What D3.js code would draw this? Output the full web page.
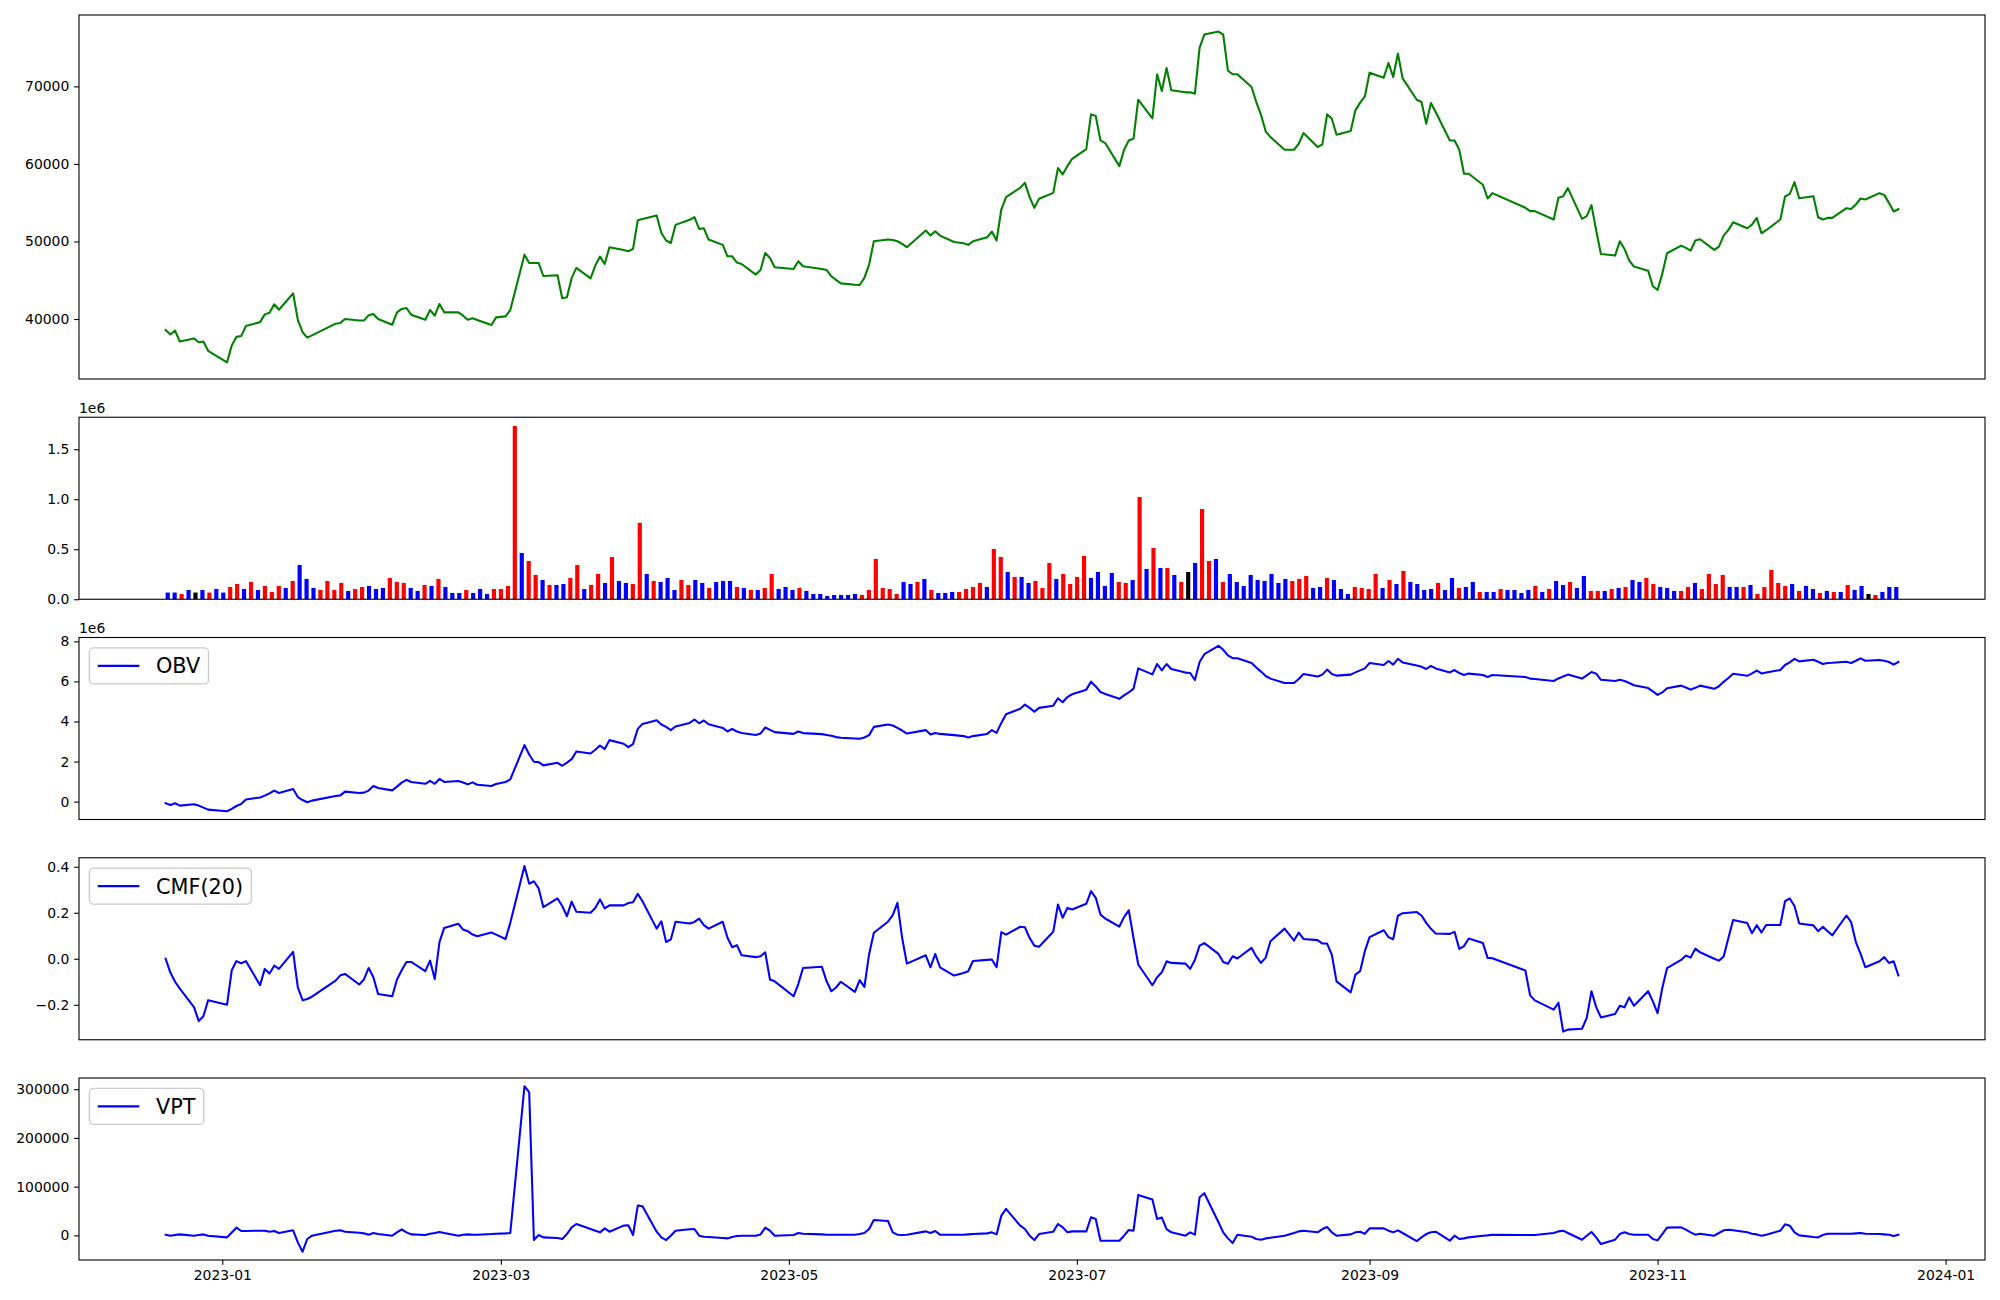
<!DOCTYPE html>
<html><head><meta charset="utf-8">
<script src="https://cdn.jsdelivr.net/npm/d3@7"></script>
<style>body{margin:0;background:#fff}</style>
</head><body><svg id="c" width="2000" height="1300" xmlns="http://www.w3.org/2000/svg"></svg>
<script>
// ---------------- DATA ----------------
const tradingDays = {
 "2022-12":[20,21,22,23,26,27,28,29],
 "2023-01":[2,3,4,5,6,9,10,11,12,13,16,17,18,19,20,25,26,27,30,31],
 "2023-02":[1,2,3,6,7,8,9,10,13,14,15,16,17,20,21,22,23,24,27,28],
 "2023-03":[2,3,6,7,8,9,10,13,14,15,16,17,20,21,22,23,24,27,28,29,30,31],
 "2023-04":[3,4,5,6,7,10,11,12,13,14,17,18,19,20,21,24,25,26,27,28],
 "2023-05":[2,3,4,8,9,10,11,12,15,16,17,18,19,22,23,24,25,26,30,31],
 "2023-06":[1,2,5,7,8,9,12,13,14,15,16,19,20,21,22,23,26,27,28,29,30],
 "2023-07":[3,4,5,6,7,10,11,12,13,14,17,18,19,20,21,24,25,26,27,28,31],
 "2023-08":[1,2,3,4,7,8,9,10,11,14,16,17,18,21,22,23,24,25,28,29,30,31],
 "2023-09":[1,4,5,6,7,8,11,12,13,14,15,18,19,20,21,22,25,26,27],
 "2023-10":[4,5,6,10,11,12,13,16,17,18,19,20,23,24,25,26,27,30,31],
 "2023-11":[1,2,3,6,7,8,9,10,13,14,15,16,17,20,21,22,23,24,27,28,29,30],
 "2023-12":[1,4,5,6,7,8,11,12,13,14,15,18,19,20,21,22]
};

const closePrice = [
 38600,38000,38500,37100,37500,37000,37100,35900,
 34400,36600,37700,37800,39100,39600,40600,40800,41900,41200,43300,39900,38300,37600,37900,39400,39500,40000,39800,39800,
 40500,40650,40000,39270,40860,41300,41420,40560,39900,41160,40430,41940,40860,40860,40430,39910,40090,39870,39220,40215,
 40340,41160,48300,47230,47230,47230,45550,45640,42670,42800,45300,46590,45250,46890,48050,47100,49260,48910,48740,49040,52740,52900,
 53345,51100,50120,49800,52140,52800,53130,51620,51700,50250,49560,48090,48090,47280,47100,45730,46330,48520,47880,46670,
 46460,47450,46800,46460,46330,45510,45040,44600,44430,44390,45300,47020,50030,50250,50200,50030,49690,49260,51410,50760,
 51320,50760,49940,49770,49560,50030,50550,51280,50120,54120,55710,56920,57560,55710,54340,55500,56270,59460,58640,59720,60660,
 61910,66390,66170,63030,62690,59720,61830,63030,63250,68280,65870,71560,69400,72370,69490,69230,69230,69060,75000,76680,77070,
 76680,72030,71560,71560,69920,67980,66350,64190,63460,61830,61830,62600,63980,62170,62520,66390,65830,63770,64240,66910,67900,68700,
 71770,71120,73020,71210,74220,71040,68280,67980,65180,67850,66690,63030,63030,61830,58730,58730,57310,55540,56230,
 54340,53910,53910,52830,55630,55840,56880,52920,53260,54680,51410,48390,48180,50030,49040,47530,46760,46240,44220,
 43750,45850,48480,49470,49170,48830,50120,50290,48910,49340,50760,51490,52480,51710,52180,53040,51060,51450,52830,55800,56140,57650,
 55580,55840,53130,52830,53040,53040,54290,54200,54770,55540,55410,56230,56010,54980,53860,54160
];

const volume = [
 67000,67000,53000,93000,67000,93000,67000,103000,67000,123000,
 153000,103000,173000,93000,133000,73000,133000,113000,183000,343000,
 203000,113000,93000,183000,93000,163000,83000,103000,123000,133000,
 103000,113000,213000,173000,163000,113000,83000,143000,133000,203000,
 123000,63000,63000,93000,63000,103000,53000,103000,103000,133000,
 1733000,463000,383000,243000,193000,143000,143000,153000,213000,343000,
 103000,143000,253000,163000,423000,183000,163000,153000,763000,253000,
 183000,173000,213000,93000,193000,143000,193000,163000,113000,173000,
 183000,183000,123000,113000,93000,93000,113000,253000,103000,123000,
 93000,113000,83000,53000,53000,33000,43000,43000,43000,53000,
 43000,93000,403000,113000,103000,53000,173000,153000,173000,203000,
 93000,63000,63000,73000,73000,103000,123000,163000,123000,503000,
 423000,273000,223000,223000,163000,183000,113000,363000,203000,253000,
 153000,223000,433000,213000,273000,133000,263000,173000,163000,193000,
 1023000,303000,513000,313000,313000,243000,173000,273000,363000,903000,
 383000,403000,173000,253000,173000,133000,243000,193000,183000,253000,
 163000,203000,183000,203000,233000,113000,123000,213000,193000,103000,
 53000,123000,113000,103000,253000,113000,193000,153000,283000,173000,
 153000,93000,103000,163000,93000,213000,113000,123000,173000,73000,
 73000,73000,103000,93000,93000,63000,93000,133000,73000,103000,
 183000,143000,173000,113000,233000,83000,83000,83000,103000,113000,
 123000,193000,173000,213000,153000,123000,113000,83000,83000,123000,
 163000,103000,253000,153000,243000,123000,123000,123000,143000,53000,
 123000,293000,163000,133000,153000,83000,133000,103000,63000,83000,
 73000,73000,143000,93000,133000,53000,43000,73000,123000,123000
];

// r = close up (red), b = close down (blue), k = unchanged (black)
const volumeDirection = (
 "bbrbkbrbbr"+"rbrbrrrbrb"+"bbrrrrbrrb"+"bbrrrbbrbr"+"bbbrbbbrrr"+
 "rbrrbrbbrr"+"brrbrbbrrb"+"rbbbrrbbrb"+"bbrbrbrrbb"+"brbbbbbbbb"+
 "rrrrrrbbrb"+"rbbbrrrrbr"+"rbrbbrrrbr"+"rrrbbbbrrb"+"rbrbrbrkbr"+
 "rbrbbbbbbb"+"bbrrrbbrbb"+"brrrrbrbrb"+"bbbrbbrbbr"+"bbrbbbbrbr"+
 "bbrbbrrbrb"+"rbbrrbbbrr"+"brrrrbbrbr"+"rrrrbrbbrb"+"rbrbbkrbbb").split("");
const directionColors = {r:"#ff0000", b:"#0000ff", k:"#000000"};

// On-Balance Volume, in millions (axis offset 1e6)
const obvMillions = [
 -0.08,-0.17,-0.08,-0.20,-0.13,-0.20,-0.30,-0.40,
 -0.48,-0.36,-0.22,-0.12,0.11,0.21,0.30,0.41,0.55,0.43,0.63,0.23,0.08,-0.03,0.05,0.28,0.31,0.50,0.43,0.45,
 0.55,0.78,0.68,0.56,0.75,0.95,1.09,0.98,0.89,1.04,0.89,1.13,0.98,1.03,0.95,0.86,0.96,0.84,0.78,0.88,
 0.98,1.11,2.82,2.35,1.99,1.97,1.81,1.94,1.79,1.95,2.12,2.50,2.40,2.59,2.80,2.62,3.07,2.89,2.72,2.87,3.63,3.88,
 4.06,3.85,3.73,3.57,3.75,3.93,4.10,3.91,4.05,3.86,3.68,3.50,3.63,3.50,3.43,3.33,3.40,3.70,3.58,3.47,
 3.38,3.50,3.42,3.37,3.33,3.29,3.22,3.19,3.15,3.14,3.20,3.32,3.73,3.85,3.80,3.68,3.55,3.40,3.57,3.35,
 3.43,3.38,3.32,3.27,3.20,3.27,3.38,3.57,3.43,3.93,4.36,4.64,4.84,4.68,4.49,4.68,4.79,5.16,4.96,5.22,5.36,
 5.59,5.99,5.75,5.47,5.37,5.13,5.30,5.45,5.64,6.65,6.35,6.87,6.55,6.87,6.62,6.44,6.42,6.07,6.97,7.36,7.78,
 7.58,7.30,7.16,7.16,6.92,6.70,6.49,6.27,6.14,5.92,5.92,6.12,6.37,6.25,6.34,6.59,6.37,6.29,6.34,6.45,6.55,6.65,
 6.92,6.82,7.02,6.84,7.13,6.95,6.80,6.73,6.62,6.78,6.65,6.45,6.57,6.42,6.32,6.39,6.32,6.22,6.32,
 6.22,6.14,6.12,6.02,6.15,6.25,6.34,6.14,6.30,6.47,6.39,6.08,6.02,6.08,6.02,5.92,5.81,5.67,5.50,
 5.33,5.45,5.66,5.79,5.70,5.59,5.68,5.79,5.63,5.76,5.98,6.17,6.38,6.28,6.40,6.54,6.40,6.45,6.57,6.82,6.95,7.13,
 7.00,7.08,6.98,6.87,6.92,6.93,6.98,6.92,7.03,7.15,7.03,7.07,7.03,6.97,6.84,6.97
];

// Chaikin Money Flow (20)
const cmf20 = [
 0.00,-0.06,-0.10,-0.13,-0.21,-0.27,-0.25,-0.18,
 -0.20,-0.05,-0.01,-0.02,-0.01,-0.115,-0.044,-0.064,-0.03,-0.044,0.03,-0.124,-0.18,-0.175,-0.165,-0.095,-0.072,-0.066,-0.112,-0.09,
 -0.04,-0.08,-0.153,-0.163,-0.09,-0.05,-0.014,-0.014,-0.054,-0.008,-0.088,0.072,0.134,0.152,0.127,0.12,0.105,0.098,0.114,0.105,
 0.086,0.156,0.403,0.326,0.337,0.306,0.224,0.262,0.229,0.185,0.248,0.204,0.20,0.221,0.258,0.219,0.232,0.232,0.242,0.246,0.282,0.25,
 0.131,0.163,0.073,0.084,0.161,0.153,0.16,0.174,0.146,0.131,0.161,0.091,0.05,0.059,0.015,0.007,0.011,0.028,-0.09,-0.098,
 -0.163,-0.11,-0.04,-0.035,-0.098,-0.141,-0.125,-0.10,-0.144,-0.093,-0.122,0.02,0.113,0.161,0.19,0.243,0.09,-0.021,0.015,-0.037,
 0.021,-0.037,-0.073,-0.062,-0.054,-0.01,-0.005,-0.003,-0.037,0.116,0.105,0.139,0.137,0.09,0.057,0.052,0.117,0.236,0.178,0.221,0.214,
 0.239,0.294,0.265,0.192,0.175,0.14,0.181,0.21,0.09,-0.025,-0.115,-0.08,-0.059,-0.011,-0.018,-0.021,-0.044,-0.005,0.057,0.068,0.021,
 -0.014,-0.022,0.011,0.001,0.047,0.01,-0.018,0.005,0.076,0.131,0.079,0.114,0.086,0.081,0.066,0.066,0.018,-0.098,-0.146,-0.069,-0.054,0.033,
 0.094,0.124,0.094,0.085,0.187,0.198,0.203,0.188,0.156,0.13,0.11,0.108,0.117,0.043,0.055,0.088,0.068,0.004,0.002,
 -0.051,-0.159,-0.181,-0.221,-0.191,-0.316,-0.308,-0.304,-0.257,-0.141,-0.21,-0.255,-0.24,-0.204,-0.211,-0.168,-0.204,-0.141,-0.185,
 -0.236,-0.127,-0.041,-0.005,0.014,0.005,0.044,0.028,0.0,-0.008,0.01,0.09,0.168,0.155,0.111,0.146,0.114,0.147,0.147,0.25,0.262,0.229,
 0.153,0.145,0.12,0.139,0.12,0.102,0.188,0.159,0.072,0.021,-0.037,-0.011,0.007,-0.018,-0.011,-0.072
];

// Volume Price Trend
const vpt = [
 1400,-700,700,2000,-700,700,2000,-700,
 -4100,6000,15800,8900,8900,9600,9600,7500,8900,4800,10300,-14400,-33600,-7500,-700,9600,10300,7500,5500,4100,
 1400,4800,2700,-700,6200,12400,6200,2000,700,3400,4800,6900,4800,-700,1400,2000,1400,1400,2700,3400,
 4100,4800,306000,294000,-9600,700,-4100,-5500,-7500,2700,16500,23300,13000,9600,6200,14400,7500,19900,20600,700,61100,59700,
 7500,-4100,-9600,-700,9600,12400,13000,-700,-2700,-3400,-5500,-6200,-3400,-1400,-700,-700,2000,15800,9600,-700,
 700,4800,3400,2000,1400,1400,1400,1400,1400,2700,4800,13000,31600,29500,6200,1400,700,1400,8200,4800,
 8900,1400,1400,1400,2000,2700,4100,6200,2000,40500,54200,19900,13000,-700,-9600,2700,7500,23300,16500,6200,8200,
 8200,37100,33600,-11000,-11000,-11000,-700,11000,9600,83000,73400,33600,36400,13000,6200,-700,6200,1400,78200,86500,26800,
 6200,-6200,-15800,1400,-2700,-7500,-8900,-6200,-4800,-700,4800,8200,9600,6200,13000,17200,6200,-700,2000,6200,7500,3400,
 14400,14400,9600,6200,10300,4800,-11700,-4100,2700,6200,7500,-11000,-700,-7500,-6200,-4100,-700,0,1400,
 700,700,700,4800,8200,9600,4800,-8900,-700,6900,-4100,-17800,-8900,2700,6200,2700,1400,1400,-7500,
 -10300,2700,15800,16500,11700,6200,1400,3400,-700,4800,10300,11700,10300,6200,3400,2000,-700,1400,9600,22600,19900,6200,
 0,-3400,-4100,700,3400,3400,3400,3400,4100,4800,3400,2700,2000,1400,-1400,1400
];

const priceTicks = [40000,50000,60000,70000];
const volumeTicks = [0,500000,1000000,1500000];
const obvTicks = [0,2,4,6,8];
const cmfTicks = [-0.2,0.0,0.2,0.4];
const vptTicks = [0,100000,200000,300000];
const dateTicks = ["2023-01-01","2023-03-01","2023-05-01","2023-07-01","2023-09-01","2023-11-01","2024-01-01"];

// ---------------- LAYOUT ----------------
const W = 2000, H = 1300, L = 79, R = 1985;
const P = {price:[15,379], volume:[417.25,599.25], obv:[637.5,819.5], cmf:[857.75,1039.75], vpt:[1078,1260]};
const FONT = "DejaVu Sans, Liberation Sans, sans-serif";
const TICK = 4.86, TICKFS = 13.9, LEGFS = 20.8;

const dates = Object.entries(tradingDays).flatMap(([ym, days]) => {
  const [y, m] = ym.split("-").map(Number);
  return days.map(d => new Date(Date.UTC(y, m - 1, d)));
});
const N = dates.length;

const svg = d3.select("#c");
svg.append("rect").attr("width", W).attr("height", H).attr("fill", "#fff");

function padded(arr) {
  const [a, b] = d3.extent(arr); const m = (b - a) * 0.05; return [a - m, b + m];
}
const t0 = +dates[0], t1 = +dates[N - 1], tm = (t1 - t0) * 0.05;
const x = d3.scaleUtc().domain([new Date(t0 - tm), new Date(t1 + tm)]).range([L, R]);
const barW = 0.6, bSpan = (N - 1) + barW;
const xb = d3.scaleLinear().domain([-barW / 2 - 0.05 * bSpan, N - 1 + barW / 2 + 0.05 * bSpan]).range([L, R]);

function yAxis(scale, ticks, fmt) {
  const g = svg.append("g").attr("transform", `translate(${L},0)`)
    .call(d3.axisLeft(scale).tickValues(ticks).tickFormat(fmt).tickSize(TICK).tickPadding(TICK));
  g.select(".domain").remove();
  g.attr("font-family", FONT).attr("font-size", TICKFS);
  g.selectAll("text").attr("fill", "#000");
  g.selectAll("line").attr("stroke", "#000").attr("stroke-width", 1.1);
}
function frame([top, bot]) {
  svg.append("rect").attr("x", L).attr("y", top).attr("width", R - L).attr("height", bot - top)
    .attr("fill", "none").attr("stroke", "#000").attr("stroke-width", 1.1);
}
function clip(id, [top, bot]) {
  svg.append("clipPath").attr("id", id).append("rect").attr("x", L).attr("y", top).attr("width", R - L).attr("height", bot - top);
  return `url(#${id})`;
}
function drawLine(values, yScale, color, clipId, panel) {
  svg.append("path").datum(values)
    .attr("clip-path", clip(clipId, panel))
    .attr("fill", "none").attr("stroke", color).attr("stroke-width", 2.08)
    .attr("stroke-linejoin", "round").attr("stroke-linecap", "square")
    .attr("d", d3.line().x((d, i) => x(dates[i])).y(d => yScale(d)));
}
function offsetText(panel, txt) {
  svg.append("text").attr("x", L).attr("y", panel[0] - 4.5).attr("font-family", FONT)
    .attr("font-size", TICKFS).attr("fill", "#000").text(txt);
}
function legend(panel, label, color) {
  const pad = 0.5 * LEGFS, bp = 0.4 * LEGFS, hl = 2.0 * LEGFS, htp = 0.8 * LEGFS;
  const bx = L + pad, by = panel[0] + pad, bh = 36;
  const g = svg.append("g");
  const rect = g.append("rect").attr("x", bx).attr("y", by).attr("height", bh).attr("rx", 4.2).attr("ry", 4.2)
    .attr("fill", "#fff").attr("fill-opacity", 0.8).attr("stroke", "#cccccc").attr("stroke-width", 1.39);
  const cy = by + bh / 2;
  g.append("line").attr("x1", bx + bp).attr("x2", bx + bp + hl).attr("y1", cy).attr("y2", cy)
    .attr("stroke", color).attr("stroke-width", 2.08);
  const t = g.append("text").attr("x", bx + bp + hl + htp).attr("y", cy).attr("dy", "0.36em")
    .attr("font-family", FONT).attr("font-size", LEGFS).attr("fill", "#000").text(label);
  const tw = t.node().getComputedTextLength();
  rect.attr("width", bp + hl + htp + tw + bp);
}

// ---------------- PANEL 1: price ----------------
const yPrice = d3.scaleLinear().domain(padded(closePrice)).range([P.price[1], P.price[0]]);
drawLine(closePrice, yPrice, "#008000", "cp1", P.price);
yAxis(yPrice, priceTicks, d3.format("d"));
frame(P.price);

// ---------------- PANEL 2: volume ----------------
const yVol = d3.scaleLinear().domain([0, d3.max(volume) * 1.05]).range([P.volume[1], P.volume[0]]);
svg.append("g").selectAll("rect").data(volume).join("rect")
  .attr("x", (d, i) => xb(i - barW / 2)).attr("width", (d, i) => xb(i + barW / 2) - xb(i - barW / 2))
  .attr("y", d => yVol(d)).attr("height", d => yVol(0) - yVol(d))
  .attr("fill", (d, i) => directionColors[volumeDirection[i]]);
yAxis(yVol, volumeTicks, d => (d / 1e6).toFixed(1));
offsetText(P.volume, "1e6");
frame(P.volume);

// ---------------- PANEL 3: OBV ----------------
const yObv = d3.scaleLinear().domain(padded(obvMillions)).range([P.obv[1], P.obv[0]]);
drawLine(obvMillions, yObv, "#0000ff", "cp3", P.obv);
yAxis(yObv, obvTicks, d3.format("d"));
offsetText(P.obv, "1e6");
frame(P.obv);
legend(P.obv, "OBV", "#0000ff");

// ---------------- PANEL 4: CMF ----------------
const yCmf = d3.scaleLinear().domain(padded(cmf20)).range([P.cmf[1], P.cmf[0]]);
drawLine(cmf20, yCmf, "#0000ff", "cp4", P.cmf);
yAxis(yCmf, cmfTicks, d => (d < 0 ? "\u2212" : "") + Math.abs(d).toFixed(1));
frame(P.cmf);
legend(P.cmf, "CMF(20)", "#0000ff");

// ---------------- PANEL 5: VPT ----------------
const yVpt = d3.scaleLinear().domain(padded(vpt)).range([P.vpt[1], P.vpt[0]]);
drawLine(vpt, yVpt, "#0000ff", "cp5", P.vpt);
yAxis(yVpt, vptTicks, d3.format("d"));
const gx = svg.append("g").attr("transform", `translate(0,${P.vpt[1]})`)
  .call(d3.axisBottom(x).tickValues(dateTicks.map(s => new Date(s + "T00:00:00Z")))
    .tickFormat(d3.utcFormat("%Y-%m")).tickSize(TICK).tickPadding(TICK));
gx.select(".domain").remove();
gx.attr("font-family", FONT).attr("font-size", TICKFS);
gx.selectAll("text").attr("fill", "#000");
gx.selectAll("line").attr("stroke", "#000").attr("stroke-width", 1.1);
frame(P.vpt);
legend(P.vpt, "VPT", "#0000ff");
</script></body></html>
